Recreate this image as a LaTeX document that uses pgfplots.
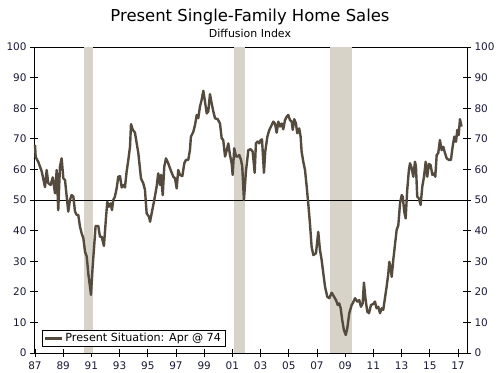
\documentclass[border=0pt]{standalone}
\usepackage{pgfplots}
\pgfplotsset{compat=1.18}
\usepackage{fontspec}
\setmainfont{DejaVu Sans}
\definecolor{linec}{RGB}{85,74,62}
\definecolor{shade}{RGB}{215,211,200}
\definecolor{tickc}{RGB}{25,25,55}
\pgfplotsset{
  base/.style={
    scale only axis, width=433bp, height=306bp,
    xmin=1986.93, xmax=2017.64, ymin=0, ymax=100,
    ytick={0,10,...,100},
    tick align=center, major tick length=8bp,
    every tick/.style={black, line width=0.8pt},
    axis line style={black, line width=0.8pt},
    tick label style={font=\fontsize{10.5}{12}\selectfont, text=tickc},
    /pgf/number format/assume math mode=true,
  }
}
\begin{document}
\begin{tikzpicture}
\useasboundingbox (-34bp,-20bp) rectangle (466bp,353bp);
\begin{axis}[base,
  xtick={1987,1989,...,2017},
  xticklabels={87,89,91,93,95,97,99,01,03,05,07,09,11,13,15,17},
  xticklabel style={yshift=-1.5bp},
  xtick pos=bottom, ytick pos=left, yticklabel pos=left,
  legend style={at={(0.0178,0.0206)}, anchor=south west, draw=black, line width=0.7pt,
    font=\fontsize{11.2}{13}\selectfont, inner xsep=2bp, inner ysep=1bp, row sep=0pt},
  legend cell align=left,
  legend image code/.code={\draw[#1, line width=2.4bp] (0bp,0bp) -- (17bp,0bp);},
]
\addplot[fill=shade, draw=none, forget plot] coordinates {(1990.45,100)(1991.1,100)} \closedcycle;
\addplot[fill=shade, draw=none, forget plot] coordinates {(2001.15,100)(2001.9,100)} \closedcycle;
\addplot[fill=shade, draw=none, forget plot] coordinates {(2007.92,100)(2009.5,100)} \closedcycle;
\addplot[black, line width=0.8pt, forget plot] coordinates {(1986.93,50)(2017.64,50)};
\addplot[linec, line width=2.4bp, line join=round] coordinates {
(1987.00,68)(1987.05,64)(1987.23,62.5)(1987.48,59.3)(1987.71,54.2)(1987.83,59.8)(1987.94,55.5)
(1988.11,54.9)(1988.26,57.4)(1988.42,52.2)(1988.54,59.8)(1988.65,46.7)(1988.77,60.9)(1988.89,63.6)
(1989.01,57.1)(1989.13,56.5)(1989.25,51.1)(1989.36,46.2)(1989.48,50)(1989.60,51.6)(1989.72,51.1)
(1989.84,46.2)(1989.96,45.1)(1990.07,45.1)(1990.19,41.3)(1990.31,39.1)(1990.43,37.5)(1990.55,33.1)
(1990.67,31.5)(1990.78,26)(1990.90,21.7)(1990.97,19)(1991.09,28.2)(1991.21,35.8)(1991.30,41.5)
(1991.49,41.5)(1991.61,38)(1991.73,38)(1991.89,35)(1992.04,44.5)(1992.13,49.4)(1992.25,47.8)
(1992.37,48.9)(1992.46,46.7)(1992.55,50)(1992.67,51.1)(1992.79,53.8)(1992.91,57.6)(1993.03,57.8)
(1993.15,54.1)(1993.26,54.9)(1993.38,54.1)(1993.50,59.3)(1993.62,63.1)(1993.74,67.4)(1993.81,74.8)
(1993.93,73)(1994.09,72)(1994.33,65.3)(1994.52,57)(1994.68,55.5)(1994.80,53.3)(1994.92,45.6)
(1995.09,44.5)(1995.16,42.9)(1995.32,46.7)(1995.46,50)(1995.63,54.4)(1995.74,58.7)(1995.87,54.9)
(1995.94,58.2)(1996.06,51.6)(1996.17,60.9)(1996.29,63.6)(1996.45,62)(1996.62,59.8)(1996.81,57.6)
(1996.93,57.1)(1997.05,53.8)(1997.16,59.8)(1997.28,58.2)(1997.45,57.8)(1997.59,62)(1997.71,63.1)
(1997.87,63.1)(1997.99,66.3)(1998.06,70.7)(1998.23,72.3)(1998.35,74.5)(1998.47,77.8)(1998.58,76.7)
(1998.70,80.5)(1998.82,82.7)(1998.94,85.7)(1999.06,82.1)(1999.18,78.3)(1999.29,78.9)(1999.41,84.6)
(1999.53,81.6)(1999.65,78.9)(1999.77,76.7)(1999.96,76.4)(2000.12,75)(2000.24,70.2)(2000.35,69.6)
(2000.48,64.2)(2000.60,66.3)(2000.71,68.5)(2000.83,64.7)(2000.95,62)(2001.02,58.2)(2001.13,66.9)
(2001.26,64.2)(2001.38,64.2)(2001.49,64.7)(2001.61,63.1)(2001.70,60.9)(2001.82,50)(2001.96,59.3)
(2002.13,66.3)(2002.30,66.6)(2002.44,65.8)(2002.58,58.9)(2002.67,68.5)(2002.79,69.1)(2002.91,68.5)
(2003.01,69.6)(2003.10,69.8)(2003.24,58.9)(2003.33,65.8)(2003.48,70.7)(2003.62,72.9)(2003.79,74.5)
(2003.90,75.6)(2004.02,75)(2004.14,72)(2004.26,75.6)(2004.38,74)(2004.50,75)(2004.61,73.1)
(2004.73,76.1)(2004.85,77.2)(2004.96,77.8)(2005.09,76.1)(2005.21,75.6)(2005.28,72.9)(2005.39,76.4)
(2005.51,75)(2005.60,71.8)(2005.74,73.4)(2005.84,70.7)(2005.91,65.8)(2006.03,62.5)(2006.15,59.8)
(2006.27,54.4)(2006.38,48.9)(2006.50,42.4)(2006.62,34.7)(2006.74,32)(2006.93,32.6)(2007.09,39.6)
(2007.21,33.7)(2007.33,30.4)(2007.45,26)(2007.57,21.7)(2007.73,18.4)(2007.87,17.9)(2008.04,19.7)
(2008.21,18.4)(2008.35,17.3)(2008.47,15.7)(2008.58,16.2)(2008.68,14.6)(2008.79,10.8)(2008.91,7.5)
(2009.04,5.9)(2009.15,8.1)(2009.29,13)(2009.46,15.7)(2009.53,16.2)(2009.70,17.9)(2009.86,16.8)
(2010.00,17.3)(2010.12,15.1)(2010.24,16.2)(2010.33,23)(2010.45,17.3)(2010.57,13.5)(2010.69,13)
(2010.83,15.7)(2010.99,16)(2011.11,16.8)(2011.23,14.6)(2011.35,15.1)(2011.47,13)(2011.59,14.6)
(2011.70,14.1)(2011.82,17.9)(2011.94,21.7)(2012.06,26)(2012.13,29.8)(2012.23,27.7)(2012.30,24.9)
(2012.41,30.4)(2012.53,35.3)(2012.65,40.2)(2012.77,41.8)(2012.89,48.9)(2013.01,51.6)(2013.08,51.1)
(2013.19,46.2)(2013.29,44)(2013.40,53.3)(2013.52,59.8)(2013.60,62)(2013.72,60.3)(2013.83,57.6)
(2013.95,62.5)(2014.02,60.9)(2014.11,51.1)(2014.23,50.5)(2014.35,48.4)(2014.47,54.4)(2014.59,57.6)
(2014.71,62.5)(2014.82,57.6)(2014.94,61.8)(2015.06,61.4)(2015.18,58.2)(2015.30,58.7)(2015.39,57.6)
(2015.49,64.7)(2015.60,65.3)(2015.72,69.6)(2015.84,66.3)(2015.96,67.4)(2016.08,65.3)(2016.20,63.6)
(2016.36,63.1)(2016.50,63.1)(2016.62,67.4)(2016.74,70.7)(2016.86,69)(2016.95,72.9)(2017.05,71.2)
(2017.14,76.4)(2017.23,74.5)(2017.25,74)
};
\addlegendentry{Present Situation: Apr @ 74}
\end{axis}
\begin{axis}[base,
  axis x line=none, axis y line*=right,
  ytick pos=right, yticklabel pos=right,
]
\addplot[draw=none] coordinates {(2000,50)};
\end{axis}
\node[anchor=base, font=\fontsize{16.5}{19}\selectfont] at (216bp,331.3bp) {Present Single-Family Home Sales};
\node[anchor=base, font=\fontsize{11}{13}\selectfont] at (216bp,315.7bp) {Diffusion Index};
\end{tikzpicture}
\end{document}
